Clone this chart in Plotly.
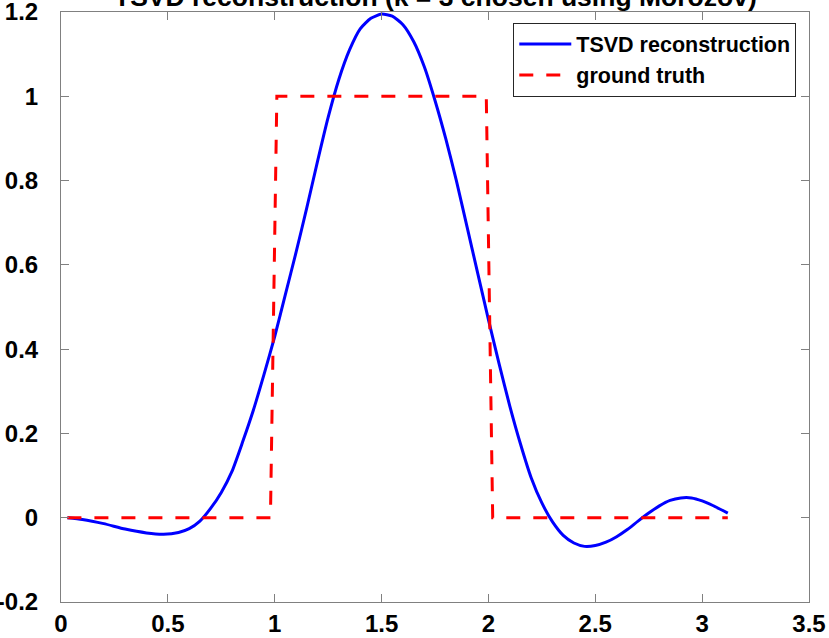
import plotly.graph_objects as go

# TSVD reconstruction (blue)
x_tsvd = [0.03, 0.1, 0.2, 0.3, 0.4, 0.48, 0.55, 0.6, 0.65, 0.7, 0.75, 0.8, 0.85, 0.9, 0.95,
          1.0, 1.05, 1.1, 1.15, 1.2, 1.25, 1.3, 1.35, 1.4, 1.45, 1.5, 1.55, 1.6, 1.65, 1.7,
          1.75, 1.8, 1.85, 1.9, 1.95, 2.0, 2.05, 2.1, 2.15, 2.2, 2.25, 2.3, 2.35, 2.4, 2.45,
          2.5, 2.55, 2.6, 2.65, 2.7, 2.75, 2.8, 2.85, 2.9, 2.95, 3.0, 3.05, 3.12]
y_tsvd = [0.0, -0.004, -0.014, -0.027, -0.036, -0.039, -0.035, -0.026, -0.008, 0.022, 0.06,
          0.11, 0.18, 0.255, 0.34, 0.43, 0.53, 0.63, 0.735, 0.845, 0.95, 1.04, 1.11, 1.16,
          1.185, 1.195, 1.19, 1.17, 1.13, 1.07, 0.99, 0.90, 0.80, 0.69, 0.58, 0.47, 0.365,
          0.265, 0.175, 0.095, 0.035, -0.01, -0.042, -0.06, -0.068, -0.066, -0.058, -0.045,
          -0.028, -0.008, 0.011, 0.028, 0.041, 0.047, 0.047, 0.040, 0.029, 0.011]

# Ground truth (red dashed)
x_true = [0.03, 0.98, 1.01, 1.99, 2.02, 3.12]
y_true = [0.0, 0.0, 1.0, 1.0, 0.0, 0.0]

x_ticks = [0, 0.5, 1, 1.5, 2, 2.5, 3, 3.5]
x_ticklabels = ["0", "0.5", "1", "1.5", "2", "2.5", "3", "3.5"]
y_ticks = [-0.2, 0, 0.2, 0.4, 0.6, 0.8, 1, 1.2]
y_ticklabels = ["-0.2", "0", "0.2", "0.4", "0.6", "0.8", "1", "1.2"]

title_text = "TSVD reconstruction (k = 3 chosen using Morozov)"

FONT = "Liberation Sans, Arial, Helvetica, sans-serif"
AX = "#808080"

fig = go.Figure()
fig.add_trace(go.Scatter(x=x_tsvd, y=y_tsvd, mode="lines", name="TSVD reconstruction",
                         line=dict(color="#0000ff", width=3, shape="spline", smoothing=0.6)))
fig.add_trace(go.Scatter(x=x_true, y=y_true, mode="lines", name="ground truth",
                         line=dict(color="#ff0000", width=3, dash="14px,13px")))

axis_common = dict(showgrid=False, zeroline=False, showline=True, linecolor=AX, linewidth=1,
                   mirror="ticks", ticks="inside", ticklen=8, tickcolor=AX, tickwidth=1,
                   automargin=False, ticklabeloverflow="allow",
                   tickfont=dict(family=FONT, size=24, color="#000000", weight="bold"))

fig.update_xaxes(range=[0, 3.5], tickvals=x_ticks, ticktext=x_ticklabels,
                 ticklabelstandoff=0, **axis_common)
fig.update_yaxes(range=[-0.2, 1.2], tickvals=y_ticks, ticktext=y_ticklabels,
                 ticklabelstandoff=17, **axis_common)

fig.update_layout(
    width=829, height=638,
    margin=dict(l=61, r=20, t=12, b=36),
    plot_bgcolor="white", paper_bgcolor="white",
    legend=dict(x=0.983, y=0.982, xanchor="right", yanchor="top", itemwidth=52,
                bgcolor="white", bordercolor="#262626", borderwidth=1,
                font=dict(family=FONT, size=21.5, color="#000000", weight="bold")),
    showlegend=True,
)
fig.add_annotation(text=title_text, x=0.5, xref="paper", y=1, yref="paper",
                   xanchor="center", yanchor="middle", yshift=15, showarrow=False,
                   font=dict(family=FONT, size=26.5, color="#000000", weight="bold"))

fig.write_html("out.html", config={"displayModeBar": False},
               post_script="document.body.style.margin='0';")
